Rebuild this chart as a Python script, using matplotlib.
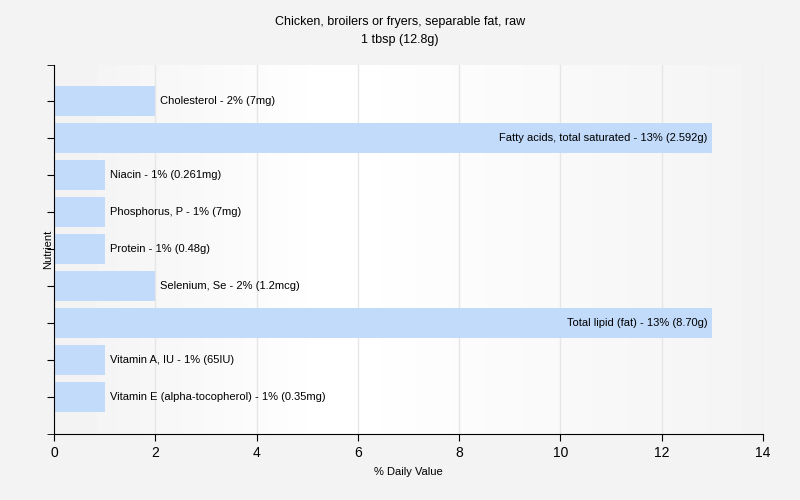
import matplotlib.pyplot as plt
import numpy as np

# Data
nutrients = ["Cholesterol", "Fatty acids, total saturated", "Niacin", "Phosphorus, P",
             "Protein", "Selenium, Se", "Total lipid (fat)", "Vitamin A, IU",
             "Vitamin E (alpha-tocopherol)"]
values = [2, 13, 1, 1, 1, 2, 13, 1, 1]
amounts = ["7mg", "2.592g", "0.261mg", "7mg", "0.48g", "1.2mcg", "8.70g", "65IU", "0.35mg"]

plt.rcParams['font.family'] = ['Liberation Sans', 'DejaVu Sans']

fig = plt.figure(figsize=(8, 5), dpi=100, facecolor='#f3f3f3')
ax = fig.add_axes([54 / 800, 1 - 434 / 500, (763 - 54) / 800, (434 - 65) / 500])

# soft background gradient in the plot area
grad = np.concatenate([np.linspace(0.95, 1.0, 40), np.linspace(1.0, 0.955, 60)])
ax.imshow(np.tile(grad, (2, 1)), cmap='gray', vmin=0, vmax=1, aspect='auto',
          extent=[0, 14, -1, 8.97], zorder=0)

n = len(nutrients)
ypos = np.arange(n)[::-1]
ax.barh(ypos, values, height=0.8, color='#c2dbfa', zorder=2)

for y, v, name, amt in zip(ypos, values, nutrients, amounts):
    label = f"{name} - {v}% ({amt})"
    if v > 10:
        ax.text(v - 0.1, y, label, ha='right', va='center', fontsize=8, zorder=3)
    else:
        ax.text(v + 0.1, y, label, ha='left', va='center', fontsize=8, zorder=3)

ax.set_xlim(0, 14)
ax.set_ylim(-1, 8.97)
ax.set_xticks(range(0, 15, 2))
ax.set_yticks(ypos)
ax.set_yticklabels([])
ax.set_yticks([-1, 8.97], minor=True)
ax.tick_params(axis='y', which='both', length=5)
ax.tick_params(axis='x', labelsize=10, length=5)
ax.grid(axis='x', color='#e6e6e6', linewidth=1, zorder=1)
ax.set_axisbelow(True)
for s in ['top', 'right']:
    ax.spines[s].set_visible(False)

ax.set_xlabel("% Daily Value", fontsize=8, labelpad=5)
ax.set_ylabel("Nutrient", fontsize=8, labelpad=-8)
fig.text(0.5, 1 - 22 / 500, "Chicken, broilers or fryers, separable fat, raw", ha='center', va='center', fontsize=9)
fig.text(0.5, 1 - 40 / 500, "1 tbsp (12.8g)", ha='center', va='center', fontsize=9)

fig.savefig("out.png", dpi=100, facecolor=fig.get_facecolor())
